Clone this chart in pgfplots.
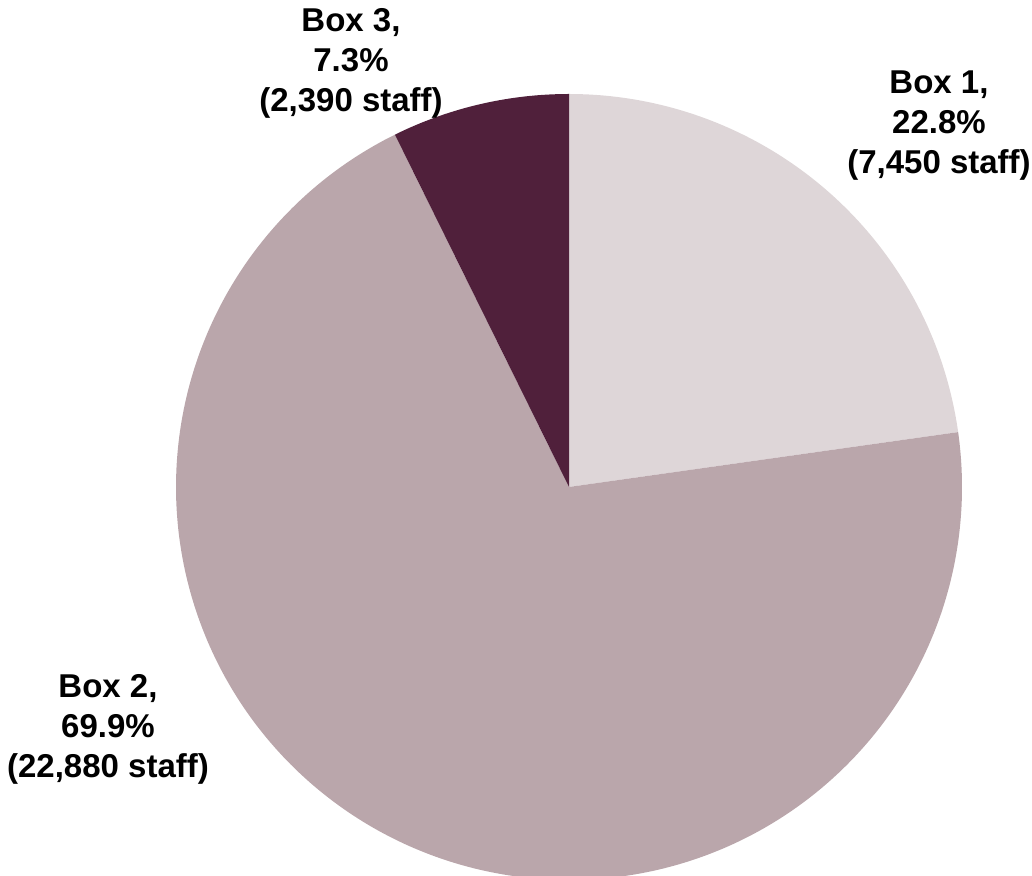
\documentclass[border=0pt]{standalone}
\usepackage{pgfplots}
\pgfplotsset{compat=1.18}
\usepackage{fontspec}
\setmainfont{Liberation Sans}
\definecolor{cA}{HTML}{DED6D8}
\definecolor{cB}{HTML}{BAA6AB}
\definecolor{cC}{HTML}{50203B}
% staff counts per box
\def\vA{7450}
\def\vB{22880}
\def\vC{2390}
\edef\aA{\fpeval{round(90-360*\vA/(\vA+\vB+\vC),4)}}
\edef\aB{\fpeval{round(\aA-360*\vB/(\vA+\vB+\vC),4)}}
\edef\aC{\fpeval{round(\aB-360*\vC/(\vA+\vB+\vC),4)}}
\tikzset{lbl/.style={font=\fontsize{16.5}{20}\selectfont\bfseries, align=center, text=black, inner sep=0pt}}
\begin{document}
\begin{tikzpicture}
\begin{axis}[
  x=0.5pt, y=0.5pt,
  xmin=0, xmax=1032, ymin=0, ymax=876,
  hide axis,
]
\path (rel axis cs:0,0) rectangle (rel axis cs:1,1);
\addplot[fill=cA, draw=none, domain=\aA:90, samples=150, variable=\t]
  ({569+393*cos(\t)},{389+393*sin(\t)}) -- (axis cs:569,389) -- cycle;
\addplot[fill=cB, draw=none, domain=\aB:\aA, samples=300, variable=\t]
  ({569+393*cos(\t)},{389+393*sin(\t)}) -- (axis cs:569,389) -- cycle;
\addplot[fill=cC, draw=none, domain=\aC:\aB, samples=60, variable=\t]
  ({569+393*cos(\t)},{389+393*sin(\t)}) -- (axis cs:569,389) -- cycle;
\node[lbl] at (axis cs:939,750) {Box 1,\\22.8\%\\(7,450 staff)};
\node[lbl] at (axis cs:108,147) {Box 2,\\69.9\%\\(22,880 staff)};
\node[lbl] at (axis cs:351,813) {Box 3,\\7.3\%\\(2,390 staff)};
\end{axis}
\end{tikzpicture}
\end{document}
